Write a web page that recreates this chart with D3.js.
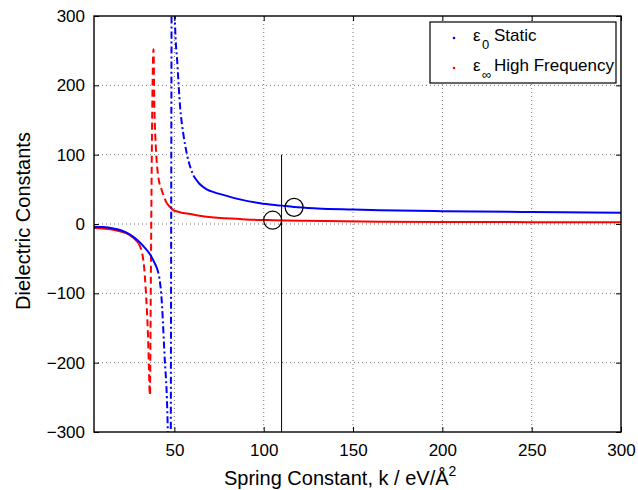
<!DOCTYPE html>
<html>
<head>
<meta charset="utf-8">
<script src="https://cdn.jsdelivr.net/npm/d3@7"></script>
<style>
    body { margin: 0; background: #fff; }
    text { font-family: "Liberation Sans", Arial, sans-serif; }
</style>
</head>
<body>
<svg id="chart" width="638" height="490"></svg>
<script>
// values
const kStatic = [5, 10, 15, 20, 25, 30, 33, 36.4, 40, 42.6, 44.4, 46.3, 47.6, 48.8, 50.3, 51.7, 53.2, 55, 56.9, 60.6, 64, 68.1, 72, 77.4, 86.7, 98, 110, 117, 130, 150, 165, 200, 250, 300];
const epsStatic = [-3.8, -4.5, -6, -9, -15, -25, -33, -44, -62, -100, -185, -297, -600, 600, 294, 230, 169, 130, 102, 70, 58, 50, 46, 42, 35.5, 30, 26.5, 24.5, 22.5, 21, 20, 18.5, 17.2, 16.3];

const kHigh = [5, 10, 15, 20, 25, 27, 30, 32.6, 34.2, 35.2, 36.1, 36.4, 38.3, 38.8, 39.7, 41, 42.9, 45.7, 49.4, 53, 58.8, 68.1, 86.7, 98, 105, 120, 165, 200, 250, 300];
const epsHigh = [-5.8, -6.5, -8, -11, -16, -20, -28, -52, -105, -160, -242, -245, 252, 170, 107, 68, 49, 30, 20, 17, 14.4, 10.5, 7.2, 5.8, 5.5, 4.8, 3.3, 3, 2.7, 2.4];

const markerK = 110;
const markerTop = 100;
const circleK = [105, 117];
const circleEps = [5.5, 24];

const xTicks = [50, 100, 150, 200, 250, 300];
const yTicks = [-300, -200, -100, 0, 100, 200, 300];

const legendLabels = [
    { sym: "ε", sub: "0", text: "Static", color: "#0000ff" },
    { sym: "ε", sub: "∞", text: "High Frequency", color: "#ff0000" }
];

const svg = d3.select("#chart");
const plotL = 94, plotR = 621, plotT = 16, plotB = 432;

const x = d3.scaleLinear().domain([5, 300]).range([plotL, plotR]);
const y = d3.scaleLinear().domain([-300, 300]).range([plotB, plotT]);

svg.append("defs").append("clipPath").attr("id", "plotclip")
    .append("rect")
    .attr("x", plotL).attr("y", plotT)
    .attr("width", plotR - plotL).attr("height", plotB - plotT);

// grid
const grid = svg.append("g")
    .attr("stroke", "#777")
    .attr("stroke-width", 1)
    .attr("stroke-dasharray", "1,3");
grid.selectAll(".gx").data(xTicks.filter(d => d < 300)).join("line")
    .attr("class", "gx")
    .attr("x1", d => x(d)).attr("x2", d => x(d))
    .attr("y1", plotT).attr("y2", plotB);
grid.selectAll(".gy").data(yTicks.filter(d => d > -300 && d < 300)).join("line")
    .attr("class", "gy")
    .attr("x1", plotL).attr("x2", plotR)
    .attr("y1", d => y(d)).attr("y2", d => y(d));

// split a series into flat (solid) and steep (dashed) runs
function runs(ks, es) {
    const pts = ks.map((k, i) => [k, es[i]]);
    const out = [];
    let cur = null;
    for (let i = 1; i < pts.length; i++) {
        const dx = Math.abs(x(pts[i][0]) - x(pts[i - 1][0]));
        const dy = Math.abs(y(pts[i][1]) - y(pts[i - 1][1]));
        const steep = dy > 2.5 * dx && dy > 6;
        if (!cur || cur.steep !== steep) {
            cur = { steep, pts: [pts[i - 1]] };
            out.push(cur);
        }
        cur.pts.push(pts[i]);
    }
    return out;
}

const line = d3.line().x(d => x(d[0])).y(d => y(d[1])).curve(d3.curveMonotoneX);

const plot = svg.append("g").attr("clip-path", "url(#plotclip)");

function drawSeries(ks, es, color, dash) {
    plot.append("g").selectAll("path")
        .data(runs(ks, es))
        .join("path")
        .attr("d", d => line(d.pts))
        .attr("fill", "none")
        .attr("stroke", color)
        .attr("stroke-width", 2)
        .attr("stroke-dasharray", d => d.steep ? dash : null);
}

drawSeries(kHigh, epsHigh, "#ff0000", "7,4");
drawSeries(kStatic, epsStatic, "#0000ff", "7,3,2,3");

// marker line and circles
svg.append("line")
    .attr("x1", x(markerK)).attr("x2", x(markerK))
    .attr("y1", y(-300)).attr("y2", y(markerTop))
    .attr("stroke", "#000").attr("stroke-width", 1);

svg.append("g").selectAll("circle")
    .data(circleK)
    .join("circle")
    .attr("cx", d => x(d))
    .attr("cy", (d, i) => y(circleEps[i]))
    .attr("r", 9)
    .attr("fill", "none")
    .attr("stroke", "#000")
    .attr("stroke-width", 1.2);

// axes
const fontSize = 17;
svg.append("g").attr("transform", `translate(0,${plotB})`)
    .call(d3.axisBottom(x).tickValues(xTicks).tickSizeInner(-5).tickSizeOuter(0).tickPadding(12));
svg.append("g").attr("transform", `translate(${plotL},0)`)
    .call(d3.axisLeft(y).tickValues(yTicks).tickSizeInner(-5).tickSizeOuter(0).tickPadding(9));
svg.append("g").attr("transform", `translate(0,${plotT})`)
    .call(d3.axisTop(x).tickValues(xTicks).tickSizeInner(-5).tickSizeOuter(0).tickFormat(""));
svg.append("g").attr("transform", `translate(${plotR},0)`)
    .call(d3.axisRight(y).tickValues(yTicks).tickSizeInner(-5).tickSizeOuter(0).tickFormat(""));

svg.selectAll(".domain").remove();
svg.selectAll(".tick line").attr("stroke", "#000");
svg.selectAll(".tick text")
    .attr("fill", "#000")
    .style("font-size", fontSize + "px")
    .style("font-family", '"Liberation Sans", Arial, sans-serif');

svg.append("rect")
    .attr("x", plotL).attr("y", plotT)
    .attr("width", plotR - plotL).attr("height", plotB - plotT)
    .attr("fill", "none").attr("stroke", "#000").attr("stroke-width", 1.4);

// axis labels
const xl = svg.append("text")
    .attr("x", 224).attr("y", 485)
    .style("font-size", "20px")
    .attr("fill", "#000");
xl.append("tspan").text("Spring Constant, k / eV/Å");
xl.append("tspan").attr("dy", -9).style("font-size", "14px").text("2");

svg.append("text")
    .attr("transform", "translate(30,221) rotate(-90)")
    .attr("text-anchor", "middle")
    .style("font-size", "20px")
    .attr("fill", "#000")
    .text("Dielectric Constants");

// legend
const lg = svg.append("g");
lg.append("rect")
    .attr("x", 430).attr("y", 22).attr("width", 186).attr("height", 61)
    .attr("fill", "#fff").attr("stroke", "#000").attr("stroke-width", 1.2);

const items = lg.selectAll(".item").data(legendLabels).join("g")
    .attr("class", "item")
    .attr("transform", (d, i) => `translate(0,${41 + i * 30})`);
items.append("circle")
    .attr("cx", 454).attr("cy", -3).attr("r", 1.3)
    .attr("fill", d => d.color);
const t = items.append("text").attr("fill", "#000").style("font-size", "17px");
t.append("tspan").attr("x", 473).attr("y", 0).text(d => d.sym);
t.append("tspan").attr("x", 482).attr("y", 8).style("font-size", "13px").text(d => d.sub);
t.append("tspan").attr("x", 494).attr("y", 0).text(d => d.text);
</script>
</body>
</html>
